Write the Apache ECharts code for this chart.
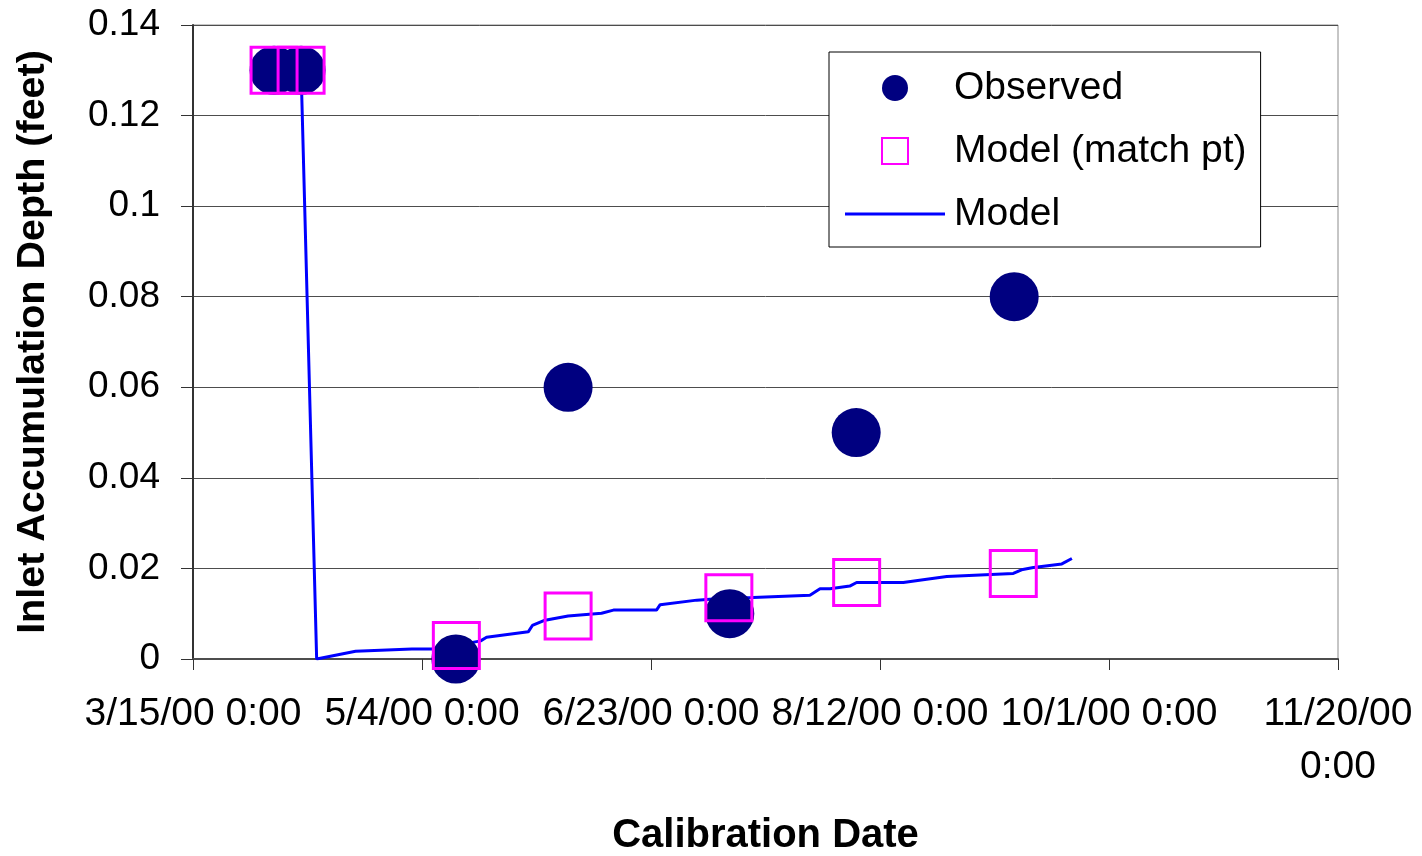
<!DOCTYPE html>
<html>
<head>
<meta charset="utf-8">
<script src="https://cdn.jsdelivr.net/npm/echarts@6/dist/echarts.min.js"></script>
<style>
  html, body { margin: 0; padding: 0; background: #fff; }
  #chart { width: 1422px; height: 856px; }
</style>
</head>
<body>
<div id="chart"></div>
<script>
// x values are days after 3/15/00 0:00
const xTickLabels = ['3/15/00 0:00', '5/4/00 0:00', '6/23/00 0:00', '8/12/00 0:00', '10/1/00 0:00', '11/20/00\n0:00']
const yTickLabels = ['0', '0.02', '0.04', '0.06', '0.08', '0.1', '0.12', '0.14']

const observedDays = [17.7, 23.6, 57.4, 81.9, 117.2, 144.8, 179.3]
const observedDepth = [0.13, 0.13, 0, 0.06, 0.01, 0.05, 0.08]

const matchDays = [17.7, 23.6, 57.5, 81.9, 117.0, 144.9, 179.1]
const matchDepth = [0.13, 0.13, 0.003, 0.0095, 0.0135, 0.0169, 0.0189]

const modelDays = [23.6, 27.0, 35.5, 47.8, 52.1, 57.5, 62.8, 64.1, 73.2, 74.1, 76.6, 81.9, 89.2, 91.8, 101.2, 102.0,
  110.0, 117.2, 122.3, 134.7, 136.9, 139.1, 143.4, 144.9, 155.1, 160.2, 164.6, 179.1, 180.9, 183.5, 189.7, 191.9]
const modelDepth = [0.13, 0, 0.0017, 0.0022, 0.0022, 0.003, 0.004, 0.0048, 0.006, 0.0074, 0.0085, 0.0095, 0.0101, 0.0108, 0.0108, 0.012,
  0.013, 0.0135, 0.0136, 0.0141, 0.0155, 0.0155, 0.0161, 0.0169, 0.0169, 0.0176, 0.0182, 0.0189, 0.0197, 0.0202, 0.021, 0.0222]

const pairs = (xs, ys) => xs.map((x, i) => [x, ys[i]])

const font = "'Liberation Sans', Arial, sans-serif"

const chart = echarts.init(document.getElementById('chart'))

const option = {
  animation: false,
  textStyle: { fontFamily: font, color: '#000' },
  grid: {
    left: 193,
    right: 84,
    top: 25,
    bottom: 197,
    containLabel: false,
    outerBoundsMode: 'none',
    show: true,
    borderColor: '#8c8c8c',
    borderWidth: 1,
  },
  legend: {
    orient: 'vertical',
    left: 829,
    top: 52,
    padding: [16, 14, 13, 16],
    backgroundColor: '#fff',
    borderColor: '#000',
    borderWidth: 1,
    itemWidth: 100,
    itemHeight: 26,
    itemGap: 23,
    symbolKeepAspect: true,
    textStyle: { fontFamily: font, fontSize: 39, color: '#000', lineHeight: 40, padding: [0, 0, 0, 4] },
    data: [
      { name: 'Observed', icon: 'circle' },
      { name: 'Model (match pt)', icon: 'path://M0,0H10V10H0Z' },
      { name: 'Model', icon: 'path://M0,0H100V3H0Z' },
    ],
  },
  xAxis: {
    type: 'value',
    min: 0,
    max: 250,
    interval: 50,
    name: 'Calibration Date',
    nameLocation: 'middle',
    nameGap: 157,
    nameTextStyle: { fontFamily: font, fontSize: 40, fontWeight: 'bold', color: '#000' },
    axisLine: { show: true, onZero: false, lineStyle: { color: '#4d4d4d', width: 2 } },
    axisTick: { show: true, inside: false, length: 11, lineStyle: { color: '#333' } },
    axisLabel: {
      margin: 29,
      fontFamily: font,
      fontSize: 39,
      lineHeight: 53,
      color: '#000',
      formatter: (v) => xTickLabels[Math.round(v / 50)],
    },
    splitLine: { show: false },
  },
  yAxis: {
    type: 'value',
    min: 0,
    max: 0.14,
    interval: 0.02,
    name: 'Inlet Accumulation Depth (feet)',
    nameLocation: 'middle',
    nameRotate: 90,
    nameGap: 140,
    nameTextStyle: { fontFamily: font, fontSize: 39.5, fontWeight: 'bold', color: '#000' },
    axisLine: { show: true, lineStyle: { color: '#333', width: 2 } },
    axisTick: { show: true, inside: false, length: 12, lineStyle: { color: '#333' } },
    axisLabel: {
      margin: 33,
      fontFamily: font,
      fontSize: 37,
      color: '#000',
      formatter: (v) => yTickLabels[Math.round(v / 0.02)],
    },
    splitLine: { show: true, lineStyle: { color: '#4d4d4d', width: 1 } },
  },
  series: [
    {
      name: 'Model',
      type: 'line',
      data: pairs(modelDays, modelDepth),
      symbol: 'none',
      lineStyle: { color: '#0000ff', width: 3 },
      itemStyle: { color: '#0000ff' },
      z: 1,
    },
    {
      name: 'Observed',
      type: 'scatter',
      data: pairs(observedDays, observedDepth),
      symbol: 'circle',
      symbolSize: 49,
      clip: false,
      itemStyle: { color: '#000080', opacity: 1 },
      z: 2,
    },
    {
      name: 'Model (match pt)',
      type: 'scatter',
      data: pairs(matchDays, matchDepth),
      symbol: 'rect',
      symbolSize: 46,
      clip: false,
      itemStyle: { color: 'rgba(0,0,0,0)', borderColor: '#ff00ff', borderWidth: 3, opacity: 1 },
      z: 3,
    },
  ],
}

chart.setOption(option)
</script>
</body>
</html>
